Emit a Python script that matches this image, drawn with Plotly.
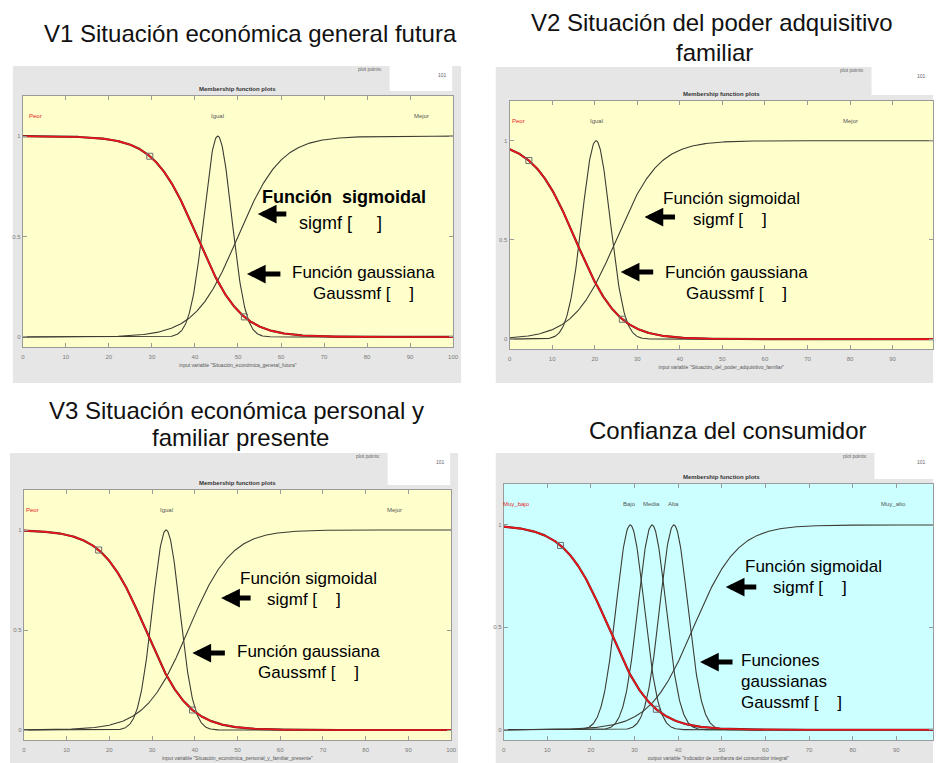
import numpy as np
import plotly.graph_objects as go

W, H = 939, 763

# ---- membership functions of each variable ------------------------------
# sigmf params: [a, c]   gaussmf params: [sigma, c]
v1_names = ["Peor", "Igual", "Mejor"]
v1_types = ["sigmf", "gaussmf", "sigmf"]
v1_params = [[-0.2, 40.5], [3.2, 45.3], [0.2, 50.0]]
v1_label_x = [3.0, 45.3, 92.6]

v2_names = ["Peor", "Igual", "Mejor"]
v2_types = ["sigmf", "gaussmf", "sigmf"]
v2_params = [[-0.2, 15.5], [3.3, 20.3], [0.2, 25.0]]
v2_label_x = [2.0, 20.5, 80.0]

v3_names = ["Peor", "Igual", "Mejor"]
v3_types = ["sigmf", "gaussmf", "sigmf"]
v3_params = [[-0.2, 28.5], [3.2, 33.3], [0.2, 38.5]]
v3_label_x = [2.0, 33.3, 86.7]

out_names = ["Muy_bajo", "Bajo", "Media", "Alta", "Muy_alto"]
out_types = ["sigmf", "gaussmf", "gaussmf", "gaussmf", "sigmf"]
out_params = [[-0.2, 24.0], [3.2, 29.0], [3.2, 34.0], [3.2, 39.0], [0.2, 43.5]]
out_label_x = [3.0, 28.8, 33.9, 38.9, 89.4]

# handles drawn on the selected (first) function at these membership levels
handle_levels = [0.9, 0.1]

x_ticks = list(range(0, 101, 10))
y_ticks = [0, 0.5, 1]
y_tick_text = ["0", "0.5", "1"]

titles = {
    "v1": ["V1 Situación económica general futura"],
    "v2": ["V2 Situación del poder adquisitivo", "familiar"],
    "v3": ["V3 Situación económica personal y", "familiar presente"],
    "out": ["Confianza del consumidor"],
}
axis_titles = {
    "v1": 'input variable "Situación_económica_general_futura"',
    "v2": 'input variable "Situación_del_poder_adquisitivo_familiar"',
    "v3": 'input variable "Situación_económica_personal_y_familiar_presente"',
    "out": 'output variable "Indicador de confianza del consumidor integral"',
}


def sigmf(x, a, c):
    return 1.0 / (1.0 + np.exp(-a * (x - c)))


def gaussmf(x, s, c):
    return np.exp(-((x - c) ** 2) / (2.0 * s ** 2))


def px(v):
    return v / W


def py(v):
    return 1 - v / H


# panel geometry in page pixels: frame box, plot box, x range end
panels = [
    dict(key="v1", names=v1_names, types=v1_types, params=v1_params, lx=v1_label_x,
         frame=(11, 66, 463, 383), plot=(21, 96, 455, 347), xmax=100,
         bg="#FFFFCC", white=(391, 66, 454, 91), mid=238),
    dict(key="v2", names=v2_names, types=v2_types, params=v2_params, lx=v2_label_x,
         frame=(498, 67, 939, 383), plot=(512, 101, 939, 349), xmax=99.5,
         bg="#FFFFCC", white=(877, 67, 939, 95), mid=726),
    dict(key="v3", names=v3_names, types=v3_types, params=v3_params, lx=v3_label_x,
         frame=(8, 453, 460, 763), plot=(22, 490, 453, 740), xmax=100,
         bg="#FFFFCC", white=(389, 453, 452, 485), mid=238),
    dict(key="out", names=out_names, types=out_types, params=out_params, lx=out_label_x,
         frame=(498, 453, 939, 763), plot=(506, 484, 939, 740), xmax=98.4,
         bg="#CCFFFF", white=(880, 453, 939, 479), mid=726),
]

fig = go.Figure()
shapes = []
annotations = []
layout_axes = {}

xs = np.linspace(0, 100, 801)
tiny = dict(family="Liberation Sans, Arial", size=6, color="#7A7A7A")

for i, p in enumerate(panels):
    n = i + 1
    xa = "x" if n == 1 else f"x{n}"
    ya = "y" if n == 1 else f"y{n}"
    xkey = "xaxis" if n == 1 else f"xaxis{n}"
    ykey = "yaxis" if n == 1 else f"yaxis{n}"
    l, t, r, b = p["plot"]

    # gray figure frame and the white "plot points" box
    fl, ft, fr, fb = p["frame"]
    shapes.append(dict(type="rect", xref="paper", yref="paper", layer="below",
                       x0=px(fl), x1=px(fr), y0=py(fb), y1=py(ft),
                       fillcolor="#E6E6E6", line=dict(width=0)))
    wl, wt, wr, wb = p["white"]
    shapes.append(dict(type="rect", xref="paper", yref="paper", layer="below",
                       x0=px(wl), x1=px(wr), y0=py(wb), y1=py(wt),
                       fillcolor="#FFFFFF", line=dict(width=0)))
    # axes background
    shapes.append(dict(type="rect", xref=f"{xa} domain", yref=f"{ya} domain", layer="below",
                       x0=0, x1=1, y0=0, y1=1, fillcolor=p["bg"], line=dict(width=0)))

    annotations.append(dict(text="plot points:", xref="paper", yref="paper",
                            x=px(wl - 6), y=py(wt + 3), xanchor="right", yanchor="middle",
                            showarrow=False, font=dict(family="Liberation Sans, Arial", size=5, color="#666")))
    annotations.append(dict(text="101", xref="paper", yref="paper",
                            x=px(min(wr, 937) - 3), y=py(wt + 9), xanchor="right", yanchor="middle",
                            showarrow=False, font=dict(family="Liberation Sans, Arial", size=5, color="#666")))
    annotations.append(dict(text="<b>Membership function plots</b>", xref="paper", yref="paper",
                            x=px(p["mid"]), y=py(t - 7), xanchor="center", yanchor="middle",
                            showarrow=False, font=dict(family="Liberation Sans, Arial", size=6, color="#333")))

    # membership curves, selected function (index 0) drawn last in red
    order = list(range(1, len(p["names"]))) + [0]
    for k in order:
        a, c = p["params"][k]
        ys = sigmf(xs, a, c) if p["types"][k] == "sigmf" else gaussmf(xs, a, c)
        if k == 0:
            fig.add_trace(go.Scatter(x=xs, y=ys, xaxis=xa, yaxis=ya, mode="lines",
                                     line=dict(color="#4A2A2A", width=2.2), hoverinfo="skip",
                                     showlegend=False))
            fig.add_trace(go.Scatter(x=xs, y=ys, xaxis=xa, yaxis=ya, mode="lines",
                                     line=dict(color="#F0141A", width=1.6), name=p["names"][k],
                                     showlegend=False))
        else:
            fig.add_trace(go.Scatter(x=xs, y=ys, xaxis=xa, yaxis=ya, mode="lines",
                                     line=dict(color="#3C3C34", width=1.1), name=p["names"][k],
                                     showlegend=False))
    a0, c0 = p["params"][0]
    hx = [c0 - np.log(1.0 / m - 1.0) / a0 for m in handle_levels]
    fig.add_trace(go.Scatter(x=hx, y=handle_levels, xaxis=xa, yaxis=ya, mode="markers",
                             marker=dict(symbol="square-open", size=6, color="#6E6E6E",
                                         line=dict(width=1)), showlegend=False, hoverinfo="skip"))

    # function names above the curves
    for k, name in enumerate(p["names"]):
        annotations.append(dict(text=name, xref=xa, yref=ya, x=p["lx"][k], y=1.1,
                                xanchor="center", yanchor="middle", showarrow=False,
                                font=dict(family="Liberation Sans, Arial", size=6,
                                          color="#E8191C" if k == 0 else "#555")))

    axis_common = dict(showgrid=False, zeroline=False, showline=True, linecolor="#9A9A9A",
                       linewidth=1, mirror="ticks", ticks="inside", ticklen=4,
                       tickcolor="#9A9A9A", tickfont=tiny)
    layout_axes[xkey] = dict(axis_common, domain=[px(l), px(r)], range=[0, p["xmax"]],
                             anchor=ya, tickvals=x_ticks, ticklabelstandoff=4,
                             title=dict(text=axis_titles[p["key"]], standoff=4,
                                        font=dict(family="Liberation Sans, Arial", size=5, color="#555")))
    layout_axes[ykey] = dict(axis_common, domain=[py(b), py(t)], range=[-0.05, 1.2],
                             anchor=xa, tickvals=y_ticks, ticktext=y_tick_text)

# ---- panel titles --------------------------------------------------------
title_font = dict(family="Liberation Sans, Arial", size=24, color="#111")
title_pos = {"v1": [(251, 33)], "v2": [(716, 23), (719, 52)],
             "v3": [(237, 410), (241, 437)], "out": [(732, 430)]}
for key, lines in titles.items():
    for line, (tx, ty) in zip(lines, title_pos[key]):
        annotations.append(dict(text=line, xref="paper", yref="paper", x=px(tx), y=py(ty),
                                xanchor="center", yanchor="middle", showarrow=False,
                                font=title_font))

# ---- callouts ------------------------------------------------------------
note_font = dict(family="Liberation Sans, Arial", size=17, color="#000")
notes = [
    ("<b>Función  sigmoidal</b>", 345, 197, "center", 18),
    ("sigmf [\u00a0\u00a0\u00a0\u00a0\u00a0]", 341, 223, "center", 18),
    ("Función gaussiana", 365, 272, "center", 17),
    ("Gaussmf [\u00a0\u00a0\u00a0\u00a0]", 365, 293, "center", 17),
    ("Función sigmoidal", 736, 198, "center", 17),
    ("sigmf [\u00a0\u00a0\u00a0\u00a0]", 734, 219, "center", 17),
    ("Función gaussiana", 741, 272, "center", 17),
    ("Gaussmf [\u00a0\u00a0\u00a0\u00a0]", 741, 293, "center", 17),
    ("Función sigmoidal", 309, 578, "center", 17),
    ("sigmf [\u00a0\u00a0\u00a0\u00a0]", 305, 599, "center", 17),
    ("Función gaussiana", 309, 651, "center", 17),
    ("Gaussmf [\u00a0\u00a0\u00a0\u00a0]", 309, 672, "center", 17),
    ("Función sigmoidal", 818, 566, "center", 17),
    ("sigmf [\u00a0\u00a0\u00a0\u00a0]", 815, 587, "center", 17),
    ("Funciones", 743, 660, "left", 17),
    ("gaussianas", 743, 681, "left", 17),
    ("Gaussmf [\u00a0\u00a0\u00a0\u00a0]", 743, 702, "left", 17),
]
for text, tx, ty, anc, fs in notes:
    annotations.append(dict(text=text, xref="paper", yref="paper", x=px(tx), y=py(ty),
                            xanchor=anc, yanchor="middle", showarrow=False,
                            font=dict(note_font, size=fs)))

arrows = [(258, 214, 30), (247, 274, 35), (648, 217, 32), (624, 272, 34),
          (221, 598, 31), (192, 653, 34), (730, 587, 32), (704, 662, 34)]
for hx_, hy_, length in arrows:
    annotations.append(dict(text="", xref="paper", yref="paper", x=px(hx_), y=py(hy_),
                            ax=length, ay=0, showarrow=True, arrowhead=2, arrowsize=0.75,
                            arrowwidth=5, arrowcolor="#000", standoff=0, startstandoff=0))

fig.update_layout(
    width=W, height=H, autosize=False,
    margin=dict(l=0, r=0, t=0, b=0),
    paper_bgcolor="#FFFFFF", plot_bgcolor="rgba(0,0,0,0)",
    shapes=shapes, annotations=annotations, showlegend=False,
    **layout_axes,
)

fig.write_html("out.html")
